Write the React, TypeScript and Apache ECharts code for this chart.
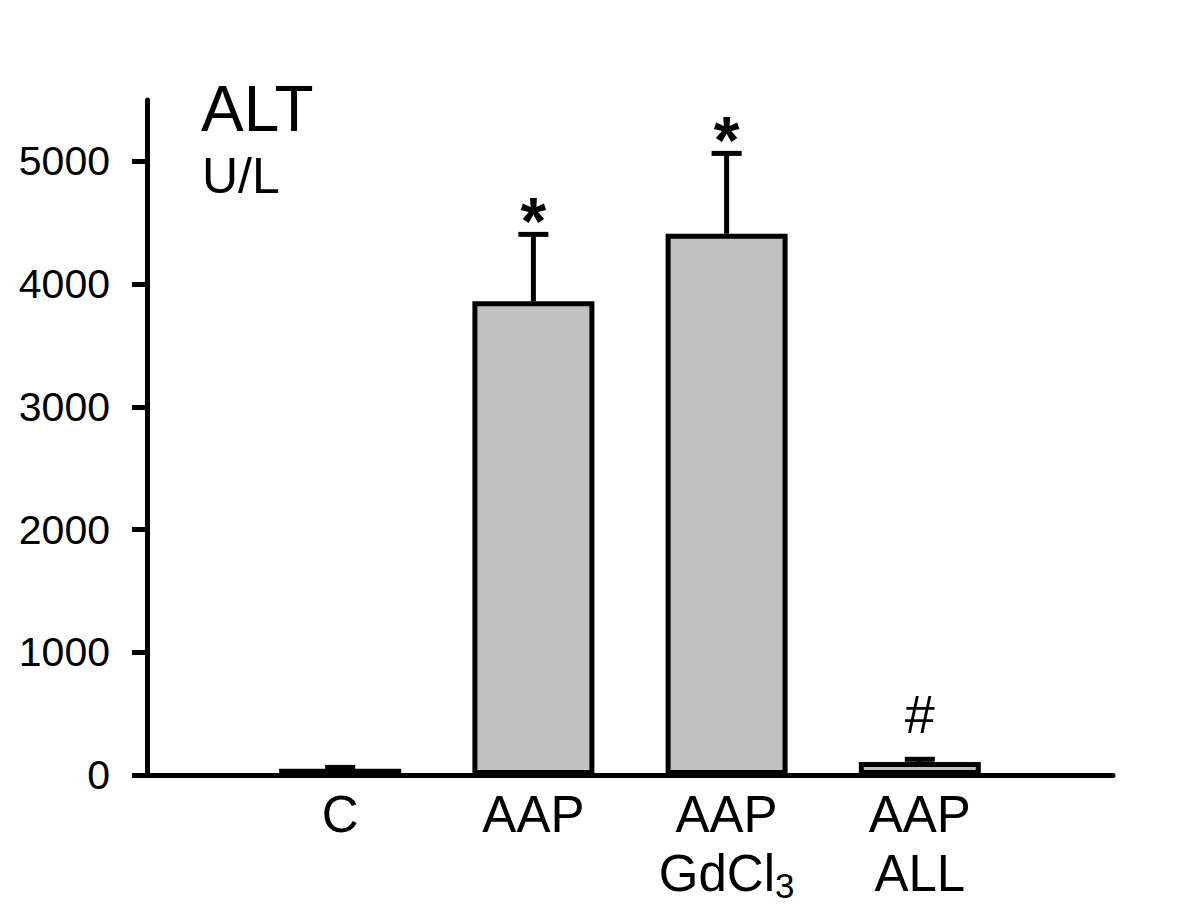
import React, { useEffect, useRef } from "react";
import * as echarts from "echarts";

const categories = ["", "C", "AAP", "AAP\nGdCl3", "AAP\nALL", ""];
const meanValues = [null, 50, 3860, 4410, 105, null];
const errorTops = [null, 62, 4405, 5065, 128, null];
const marks = ["", "", "*", "*", "#", ""];
const yTicks = [0, 1000, 2000, 3000, 4000, 5000];
const titleText = "ALT";
const unitText = "U/L";

const FONT = "'Liberation Sans', Arial, sans-serif";

export default function App() {
  const ref = useRef<HTMLDivElement>(null);
  useEffect(() => {
    if (!ref.current) return;
    const chart = echarts.init(ref.current, undefined, { renderer: "svg" });
    const errData = categories
      .map((c, i) => (meanValues[i] == null ? null : [i, meanValues[i], errorTops[i], marks[i]]))
      .filter((d) => d !== null);
    chart.setOption({
      animation: false,
      backgroundColor: "#ffffff",
      textStyle: { fontFamily: FONT, color: "#000" },
      grid: { left: 147, right: 87, top: 100, bottom: 146, containLabel: false },
      xAxis: {
        type: "category",
        data: categories,
        boundaryGap: false,
        axisLine: { lineStyle: { color: "#000", width: 5 } },
        axisTick: { show: false },
        splitLine: { show: false },
        axisLabel: {
          interval: 0,
          margin: 10,
          color: "#000",
          fontFamily: FONT,
          fontSize: 51,
          lineHeight: 59,
          formatter: (v: string) => {
            if (!v) return "";
            return v
              .split("\n")
              .map((line) => {
                const m = line.match(/^(.*?)(\d+)$/);
                if (m) return `{a|${m[1]}}{s|${m[2]}}`;
                return `{a|${line}}`;
              })
              .join("\n");
          },
          rich: {
            a: { fontSize: 51, lineHeight: 59, fontFamily: FONT, color: "#000" },
            s: { fontSize: 35, lineHeight: 18, verticalAlign: "bottom", fontFamily: FONT, color: "#000" },
          },
        },
      },
      yAxis: {
        type: "value",
        min: 0,
        max: 5500,
        interval: 1000,
        axisLine: { show: true, lineStyle: { color: "#000", width: 5 } },
        axisTick: { show: true, length: 15, customValues: yTicks, lineStyle: { color: "#000", width: 5 } },
        splitLine: { show: false },
        axisLabel: {
          customValues: yTicks,
          margin: 37,
          color: "#000",
          fontFamily: FONT,
          fontSize: 41,
          formatter: (v: number) => String(v),
        },
      },
      series: [
        {
          type: "bar",
          data: meanValues,
          barWidth: 122,
          itemStyle: { color: "#c0c0c0", borderColor: "#000", borderWidth: 5 },
          z: 2,
        },
        {
          type: "custom",
          data: errData,
          z: 3,
          renderItem: (params: any, api: any) => {
            const i = api.value(0);
            const base = api.coord([i, api.value(1)]);
            const top = api.coord([i, api.value(2)]);
            const mark = marks[i];
            const children: any[] = [
              {
                type: "line",
                shape: { x1: top[0], y1: base[1], x2: top[0], y2: top[1] },
                style: { stroke: "#000", lineWidth: 5 },
              },
              {
                type: "line",
                shape: { x1: top[0] - 15, y1: top[1], x2: top[0] + 15, y2: top[1] },
                style: { stroke: "#000", lineWidth: 5 },
              },
            ];
            if (mark) {
              const isStar = mark === "*";
              children.push({
                type: "text",
                x: top[0],
                y: top[1] - (isStar ? 13 : 45),
                style: {
                  text: mark,
                  fontFamily: FONT,
                  fontSize: isStar ? 66 : 54,
                  fontWeight: isStar ? "bold" : "normal",
                  fill: "#000",
                  align: "center",
                  verticalAlign: "middle",
                },
              });
            }
            return { type: "group", children };
          },
        },
      ],
      graphic: [
        {
          type: "text",
          left: 201,
          top: 77,
          style: { text: titleText, fontFamily: FONT, fontSize: 64, fill: "#000" },
        },
        {
          type: "text",
          left: 202,
          top: 151,
          style: { text: unitText, fontFamily: FONT, fontSize: 50, fill: "#000" },
        },
      ],
    });
    return () => chart.dispose();
  }, []);
  return (
    <div
      ref={ref}
      style={{ position: "fixed", left: 0, top: 0, width: 1200, height: 921, background: "#fff" }}
    />
  );
}
